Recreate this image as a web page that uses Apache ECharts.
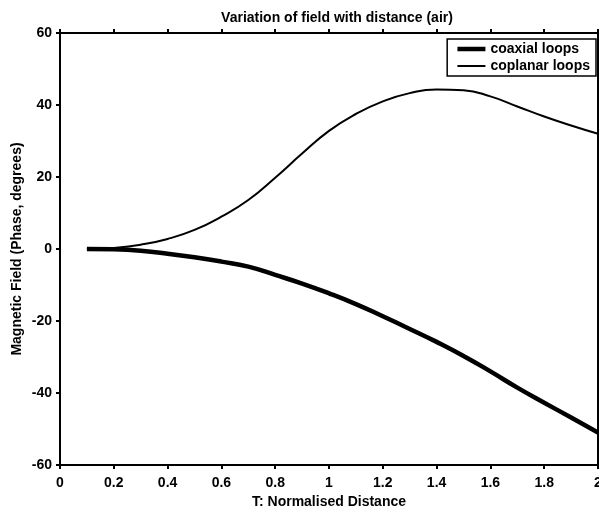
<!DOCTYPE html>
<html><head><meta charset="utf-8">
<script src="https://cdn.jsdelivr.net/npm/echarts@6/dist/echarts.min.js"></script>
<style>html,body{margin:0;padding:0;background:#fff}#c{width:599px;height:510px}</style>
</head><body><div id="c"></div>
<script>
const distance = [0.1,0.2,0.3,0.4,0.5,0.6,0.7,0.8,0.9,1.0,1.1,1.2,1.3,1.4,1.5,1.6,1.7,1.8,1.9,2.0];
const coaxial = [0,-0.1,-0.5,-1.3,-2.3,-3.5,-4.9,-7.2,-9.6,-12.3,-15.3,-18.7,-22.2,-25.8,-29.7,-34.0,-38.5,-42.7,-46.8,-51];
const coplanar = [0,0.3,1.2,2.8,5.3,9,13.6,19.8,26.5,32.8,37.5,41,43.3,44.3,44.1,42.4,39.6,36.8,34.3,32];
const xTicks = [0,0.2,0.4,0.6,0.8,1,1.2,1.4,1.6,1.8,2];
const yTicks = [-60,-40,-20,0,20,40,60];

const font = 'Liberation Sans, Arial, sans-serif';
const pair = (xs, ys) => xs.map((x,i)=>[x,ys[i]]);
const axLine = {show:true, onZero:false, lineStyle:{color:'#000', width:2}};
const tick = {show:true, length:4, lineStyle:{color:'#000', width:2}};
const chart = echarts.init(document.getElementById('c'));
chart.setOption({
  animation:false,
  backgroundColor:'#fff',
  title:{text:'Variation of field with distance (air)', left:332, top:6, textAlign:'center',
    textStyle:{fontFamily:font, fontSize:14, fontWeight:'bold', color:'#000'}},
  legend:{orient:'vertical', right:3, top:39, padding:[3,6,3,8], itemGap:3,
    itemWidth:28, itemHeight:14, borderColor:'#000', borderWidth:1.5, backgroundColor:'#fff',
    textStyle:{fontFamily:font, fontSize:14, fontWeight:'bold', color:'#000'},
    itemStyle:{opacity:0},
    data:[{name:'coaxial loops', lineStyle:{width:4.5}}, {name:'coplanar loops', lineStyle:{width:2}}]},
  grid:{left:60, right:1, top:33, bottom:45, outerBoundsMode:'none', containLabel:false},
  xAxis:[{type:'value', min:0, max:2, interval:0.2, position:'bottom',
    name:'T: Normalised Distance', nameLocation:'middle', nameGap:27,
    nameTextStyle:{fontFamily:font, fontSize:14, fontWeight:'bold', color:'#000'},
    axisLine:axLine, axisTick:tick,
    axisLabel:{fontFamily:font, fontSize:14, fontWeight:'bold', color:'#000', margin:11,
      formatter:v=>String(+v.toFixed(1))},
    splitLine:{show:false}},
   {type:'value', min:0, max:2, interval:0.2, position:'top',
    axisLine:axLine, axisTick:tick,
    axisLabel:{show:false}, splitLine:{show:false}}],
  yAxis:[{type:'value', min:-60, max:60, interval:20, position:'left',
    name:'Magnetic Field (Phase, degrees)', nameLocation:'middle', nameGap:36, nameMoveOverlap:false,
    nameTextStyle:{fontFamily:font, fontSize:14, fontWeight:'bold', color:'#000'},
    axisLine:axLine, axisTick:tick,
    axisLabel:{fontFamily:font, fontSize:14, fontWeight:'bold', color:'#000', margin:8},
    splitLine:{show:false}},
   {type:'value', min:-60, max:60, interval:20, position:'right',
    axisLine:axLine, axisTick:{show:false}, axisLabel:{show:false}, splitLine:{show:false}}],
  series:[
    {name:'coaxial loops', type:'line', smooth:true, symbol:'none', data:pair(distance, coaxial),
     lineStyle:{color:'#000', width:4.5}, itemStyle:{color:'#000'}},
    {name:'coplanar loops', type:'line', smooth:true, symbol:'none', data:pair(distance, coplanar),
     lineStyle:{color:'#000', width:2}, itemStyle:{color:'#000'}}
  ]
});
</script></body></html>
